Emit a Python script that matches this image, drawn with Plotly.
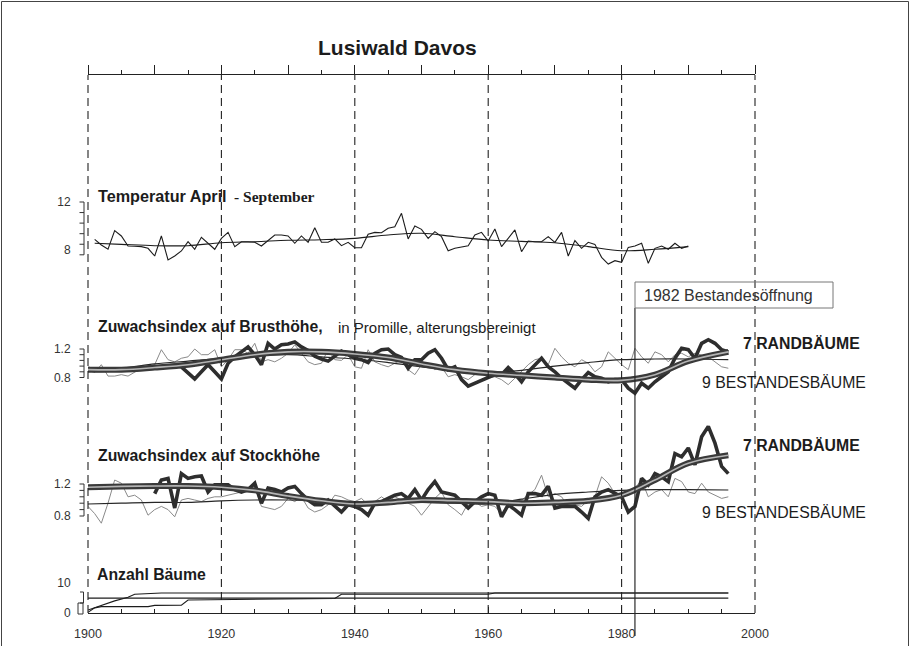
import plotly.graph_objects as go

# ---------------- data ----------------
# Temperatur April - September (°C), annual values and trend
temp_years = list(range(1901, 1991))
temp_values = [8.89, 8.42, 8.06, 9.61, 9.17, 8.33, 8.31, 8.28, 8.14, 7.50,
               9.17, 7.17, 7.50, 7.92, 8.69, 8.06, 9.06, 8.56, 8.06, 8.97,
               9.47, 8.28, 8.69, 8.69, 8.64, 8.33, 8.83, 9.25, 9.25, 9.17,
               8.56, 9.17, 8.64, 9.86, 8.64, 8.64, 8.92, 8.36, 8.64, 8.19,
               8.19, 9.31, 9.47, 9.44, 9.81, 9.94, 11.06, 8.92, 10.00, 9.72,
               8.97, 9.53, 9.11, 7.94, 8.14, 8.28, 8.36, 9.25, 9.47, 8.75,
               9.75, 8.28, 8.97, 9.67, 7.86, 8.75, 8.69, 8.69, 9.11, 8.64,
               9.47, 7.50, 8.78, 8.14, 8.64, 8.47, 7.39, 6.83, 7.11, 6.97,
               8.22, 8.33, 8.56, 6.89, 8.14, 8.33, 8.06, 8.56, 8.14, 8.33]
temp_trend_years = [1901, 1905, 1910, 1915, 1920, 1925, 1930, 1935, 1940, 1945,
                    1950, 1955, 1960, 1965, 1970, 1975, 1980, 1985, 1990]
temp_trend = [8.56, 8.47, 8.36, 8.36, 8.61, 8.69, 8.81, 8.86, 8.97, 9.25,
              9.39, 9.11, 8.83, 8.72, 8.61, 8.28, 7.94, 8.06, 8.28]

# Growth index (per mille, age corrected), annual values 1900-1996
years = list(range(1900, 1997))
brust_rand = [0.93, 0.90, 0.90, 0.90, 0.91, 0.91, 0.91, 0.92, 0.93, 0.94,
              0.94, 0.95, 0.96, 0.97, 0.95, 0.87, 0.78, 0.88, 0.98, 0.88,
              0.78, 1.00, 1.09, 1.16, 1.23, 1.12, 0.98, 1.28, 1.20, 1.26,
              1.27, 1.30, 1.23, 1.18, 1.10, 1.06, 1.03, 1.10, 1.17, 1.12,
              1.07, 1.05, 1.01, 1.14, 1.19, 1.20, 1.12, 1.08, 0.93, 1.05,
              1.05, 1.14, 1.19, 1.07, 0.91, 0.95, 0.77, 0.68, 0.72, 0.77,
              0.81, 0.84, 0.84, 0.94, 0.85, 0.74, 0.88, 0.98, 1.07, 0.95,
              0.88, 0.79, 0.72, 0.65, 0.77, 0.87, 0.81, 0.79, 0.74, 0.77,
              0.77, 0.65, 0.58, 0.72, 0.65, 0.74, 0.81, 0.88, 1.07, 1.21,
              1.19, 1.07, 1.28, 1.33, 1.28, 1.19, 1.16]
brust_bestand = [0.90, 0.87, 0.98, 0.82, 0.82, 0.84, 0.82, 0.88, 0.93, 0.95,
                 0.98, 1.19, 1.05, 1.02, 1.07, 1.09, 1.20, 1.12, 1.12, 1.19,
                 0.95, 1.05, 1.19, 1.19, 1.14, 1.28, 1.02, 1.05, 1.02, 1.07,
                 1.14, 1.26, 1.14, 1.02, 0.98, 1.00, 1.19, 1.05, 1.04, 1.12,
                 0.95, 0.93, 1.19, 1.02, 0.98, 0.95, 1.00, 1.05, 0.91, 0.84,
                 0.98, 1.00, 0.91, 0.95, 0.81, 0.84, 0.81, 0.77, 0.84, 0.88,
                 0.79, 0.81, 0.77, 0.70, 0.79, 0.88, 0.98, 1.05, 1.07, 0.98,
                 1.21, 1.09, 1.00, 0.95, 1.05, 1.00, 0.88, 0.95, 1.16, 1.07,
                 0.98, 0.91, 1.21, 1.09, 1.00, 1.16, 1.12, 1.02, 1.12, 1.14,
                 1.09, 1.14, 1.12, 1.09, 1.02, 0.95, 0.93]

stock_rand_years = list(range(1910, 1997))
stock_rand = [1.08, 1.25, 1.27, 0.90, 1.33, 1.27, 1.29, 1.30, 1.10, 1.19,
              1.19, 1.19, 1.13, 1.10, 1.13, 1.21, 0.96, 1.15, 1.13, 1.10,
              1.15, 1.17, 1.08, 1.00, 0.94, 0.94, 1.00, 0.92, 0.85, 0.94,
              0.92, 0.88, 0.81, 0.96, 0.98, 1.02, 1.06, 1.08, 1.02, 1.13,
              1.00, 1.13, 1.23, 1.10, 1.08, 1.06, 0.98, 0.90, 0.98, 1.04,
              1.08, 1.06, 0.79, 0.94, 0.88, 0.81, 1.08, 1.08, 1.06, 1.17,
              0.90, 0.92, 0.92, 0.92, 0.85, 0.77, 1.04, 1.10, 1.13, 1.08,
              1.04, 0.85, 0.92, 1.27, 1.19, 1.33, 1.29, 1.23, 1.58, 1.54,
              1.65, 1.44, 1.79, 1.92, 1.71, 1.42, 1.33]
stock_bestand = [0.92, 0.83, 0.71, 0.96, 1.25, 1.21, 1.04, 1.06, 1.00, 0.81,
                 0.88, 0.92, 0.88, 0.79, 1.00, 1.02, 1.00, 0.98, 1.02, 1.04,
                 1.04, 1.06, 1.08, 1.10, 1.15, 1.17, 0.92, 0.90, 0.88, 0.92,
                 1.02, 0.98, 1.04, 0.90, 0.85, 0.88, 0.94, 1.06, 1.04, 1.00,
                 0.98, 1.02, 0.94, 0.98, 1.04, 0.98, 1.04, 1.00, 0.96, 0.92,
                 0.81, 0.92, 1.02, 1.10, 0.94, 0.88, 0.81, 0.96, 0.98, 0.92,
                 0.94, 0.92, 0.83, 0.94, 0.98, 1.00, 1.06, 1.13, 1.31, 1.04,
                 1.08, 1.04, 0.92, 0.94, 0.92, 1.00, 1.04, 1.29, 1.21, 1.08,
                 1.04, 1.10, 1.15, 1.25, 1.04, 1.10, 1.13, 1.04, 1.27, 1.23,
                 1.10, 1.08, 1.21, 1.10, 1.06, 1.02, 1.04]

# smoothed curves
trend_years = [1900, 1905, 1910, 1915, 1920, 1925, 1930, 1935, 1940, 1945,
               1950, 1955, 1960, 1965, 1970, 1975, 1980, 1985, 1990, 1996]
brust_rand_trend = [0.91, 0.91, 0.94, 0.98, 1.05, 1.12, 1.16, 1.16, 1.13, 1.08,
                    0.99, 0.91, 0.86, 0.83, 0.80, 0.77, 0.76, 0.84, 1.03, 1.16]
brust_bestand_trend = [0.91, 0.93, 0.99, 1.03, 1.07, 1.10, 1.12, 1.09, 1.06, 1.01,
                       0.95, 0.91, 0.87, 0.90, 0.96, 1.01, 1.05, 1.06, 1.06, 1.05]
stock_rand_trend = [1.16, 1.17, 1.175, 1.175, 1.16, 1.12, 1.05, 0.99, 0.95, 0.97,
                    1.00, 0.99, 0.98, 0.96, 0.97, 0.99, 1.06, 1.25, 1.46, 1.56]
stock_bestand_trend = [0.95, 0.96, 0.97, 0.97, 0.99, 1.00, 1.00, 0.99, 0.98, 0.98,
                       0.97, 0.96, 0.95, 1.01, 1.07, 1.10, 1.12, 1.13, 1.13, 1.125]

# number of trees in the samples
anz_a_years = [1900, 1902, 1904, 1906, 1907, 1911, 1996]
anz_a = [1.0, 2.5, 4.0, 5.2, 6.2, 6.6, 6.6]
anz_b_years = [1900, 1996]
anz_b = [4.9, 4.9]
anz_c_years = [1900, 1901, 1902, 1909, 1910, 1914, 1915, 1925, 1937, 1938, 1960, 1961, 1996]
anz_c = [0.2, 1.7, 2.1, 2.1, 2.5, 2.6, 4.3, 4.5, 4.8, 6.2, 6.2, 6.6, 6.6]

x_ticks = [1900, 1920, 1940, 1960, 1980, 2000]

# ---------------- geometry ----------------
W_FIG, H_FIG = 910, 646
L, T, R, B = 88, 75, 155, 33
PW, PH = W_FIG - L - R, H_FIG - T - B
BOTTOM = T + PH


def px_x(x):
    return (x - L) / PW


def px_y(y):
    return (BOTTOM - y) / PH


def axis_range(v_a, y_a, v_b, y_b):
    # value range of a full-height axis given two value/pixel anchors
    per_px = (v_b - v_a) / (y_a - y_b)
    return [v_a - (BOTTOM - y_a) * per_px, v_a + (y_a - T) * per_px]


rng_temp = axis_range(8, 250, 12, 202)
rng_brust = axis_range(0.8, 377.5, 1.2, 349)
rng_stock = axis_range(0.8, 516, 1.2, 484)
rng_anz = axis_range(0, 613, 10, 582.7)


def v2p(v, rng):
    return (v - rng[0]) / (rng[1] - rng[0])


FONT = "Liberation Sans, Arial, sans-serif"
INK = "#1c1c1c"

fig = go.Figure()

# temperature
fig.add_trace(go.Scatter(x=temp_years, y=temp_values, mode="lines", yaxis="y",
                         line=dict(color=INK, width=1.1)))
fig.add_trace(go.Scatter(x=temp_trend_years, y=temp_trend, mode="lines", yaxis="y",
                         line=dict(color=INK, width=1.1, shape="spline")))


def growth_panel(axis, bestand, bestand_trend, rand_x, rand, rand_trend):
    fig.add_trace(go.Scatter(x=years, y=bestand, mode="lines", yaxis=axis,
                             line=dict(color="#8a8a8a", width=1.0)))
    fig.add_trace(go.Scatter(x=trend_years, y=bestand_trend, mode="lines", yaxis=axis,
                             line=dict(color="#262626", width=1.2, shape="spline")))
    fig.add_trace(go.Scatter(x=rand_x, y=rand, mode="lines", yaxis=axis,
                             line=dict(color="#2e2e2e", width=3.6)))
    fig.add_trace(go.Scatter(x=trend_years, y=rand_trend, mode="lines", yaxis=axis,
                             line=dict(color="#3a3a3a", width=6, shape="spline")))
    fig.add_trace(go.Scatter(x=trend_years, y=rand_trend, mode="lines", yaxis=axis,
                             line=dict(color="#b4b4b4", width=1.6, shape="spline")))


growth_panel("y2", brust_bestand, brust_bestand_trend, years, brust_rand, brust_rand_trend)
growth_panel("y3", stock_bestand, stock_bestand_trend, stock_rand_years, stock_rand,
             stock_rand_trend)

for xs, ys in [(anz_a_years, anz_a), (anz_b_years, anz_b), (anz_c_years, anz_c)]:
    fig.add_trace(go.Scatter(x=xs, y=ys, mode="lines", yaxis="y4",
                             line=dict(color=INK, width=1.1)))

# ---------------- shapes ----------------
shapes = []
for yr in x_ticks:
    shapes.append(dict(type="line", xref="paper", yref="paper",
                       x0=(yr - 1900) / 100, x1=(yr - 1900) / 100, y0=0, y1=1,
                       line=dict(color="#222", width=1.1, dash="8px,5px")))

# 1982 opening of the stand
x82 = (1982 - 1900) / 100
shapes.append(dict(type="line", xref="paper", yref="paper", x0=x82, x1=x82,
                   y0=px_y(636), y1=px_y(308), line=dict(color="#2a2a2a", width=1.2)))
shapes.append(dict(type="rect", xref="paper", yref="paper",
                   x0=px_x(635), x1=px_x(833), y0=px_y(308), y1=px_y(282),
                   line=dict(color="#777", width=1)))


def bracket(rng, top, bottom, n=6):
    xs = px_x(84)
    xl = px_x(79.5)
    y_top, y_bot = v2p(top, rng), v2p(bottom, rng)
    shapes.append(dict(type="line", xref="paper", yref="paper", x0=xs, x1=xs,
                       y0=y_bot, y1=y_top, line=dict(color="#333", width=1)))
    for i in range(n):
        yy = y_top + (y_bot - y_top) * i / (n - 1)
        shapes.append(dict(type="line", xref="paper", yref="paper", x0=xl, x1=xs,
                           y0=yy, y1=yy, line=dict(color="#333", width=1)))


bracket(rng_temp, 12, 7.6)
bracket(rng_brust, 1.2, 0.8)
bracket(rng_stock, 1.2, 0.8)
# small brackets of the tree count axis
shapes.append(dict(type="path", xref="paper", yref="paper",
                   path="M {a},{y1} L {b},{y1} L {b},{y2} L {a},{y2}".format(
                       a=px_x(80), b=px_x(83.5), y1=px_y(592), y2=px_y(603)),
                   line=dict(color="#333", width=1)))
shapes.append(dict(type="rect", xref="paper", yref="paper",
                   x0=px_x(78), x1=px_x(83), y0=px_y(614), y1=px_y(603),
                   line=dict(color="#333", width=1)))

# frame round the page
shapes.append(dict(type="rect", xref="paper", yref="paper",
                   x0=px_x(1.5), x1=px_x(908.5), y0=px_y(650), y1=px_y(1.5),
                   line=dict(color="#444", width=1)))

# ---------------- texts ----------------
ann = []


def text(x, y, s, size=15.8, bold=False, family=FONT, anchor="left", color=INK):
    ann.append(dict(xref="paper", yref="paper", x=px_x(x), y=px_y(y),
                    xanchor=anchor, yanchor="middle", showarrow=False,
                    text="<b>%s</b>" % s if bold else s,
                    font=dict(family=family, size=size, color=color)))


text(397, 47, "Lusiwald Davos", size=21, bold=True, anchor="center")
text(96, 196, "Temperatur April", size=16.2, bold=True)
text(232, 197, "- September", size=15.5, bold=True,
     family="Liberation Serif, Times New Roman, serif")
text(96, 326, "Zuwachsindex auf Brusthöhe,", bold=True)
text(336, 327, "in Promille, alterungsbereinigt", size=15)
text(741, 343, "7 RANDBÄUME", bold=True)
text(700, 382, "9 BESTANDESBÄUME", size=15.8)
text(96, 455, "Zuwachsindex auf Stockhöhe", bold=True)
text(741, 445, "7 RANDBÄUME", bold=True)
text(700, 512, "9 BESTANDESBÄUME", size=15.8)
text(95, 574, "Anzahl Bäume", bold=True)
text(642, 295, "1982 Bestandesöffnung", size=16, color="#333")

yax_common = dict(domain=[0, 1], showgrid=False, zeroline=False, showline=False,
                  ticks="outside", ticklen=14, tickcolor="rgba(0,0,0,0)",
                  tickfont=dict(family=FONT, size=12, color="#333"),
                  automargin=False, fixedrange=True)

fig.update_layout(
    width=W_FIG, height=H_FIG,
    margin=dict(l=L, r=R, t=T, b=B, autoexpand=False),
    paper_bgcolor="white", plot_bgcolor="white",
    showlegend=False,
    font=dict(family=FONT, color=INK),
    xaxis=dict(range=[1900, 2000], domain=[0, 1], showgrid=False, zeroline=False,
               showline=True, linecolor="#222", linewidth=1.2, automargin=False,
               tickvals=x_ticks, ticks="inside", ticklen=6, tickcolor="#222",
               ticklabelstandoff=9,
               minor=dict(dtick=5, tick0=1900, ticks="inside", ticklen=4,
                          tickcolor="#222", showgrid=False),
               tickfont=dict(family=FONT, size=12.5, color="#333")),
    xaxis2=dict(range=[1900, 2000], overlaying="x", side="top", showgrid=False,
                zeroline=False, showline=True, linecolor="#222", linewidth=1.2,
                automargin=False,
                dtick=10, tick0=1900, ticks="outside", ticklen=9, tickcolor="#222",
                minor=dict(dtick=5, ticks="outside", ticklen=4, tickcolor="#222"),
                showticklabels=False),
    yaxis=dict(range=rng_temp, tickvals=[8, 12], ticktext=["8", "12"], **yax_common),
    yaxis2=dict(range=rng_brust, overlaying="y", tickvals=[0.8, 1.2],
                ticktext=["0.8", "1.2"], **yax_common),
    yaxis3=dict(range=rng_stock, overlaying="y", tickvals=[0.8, 1.2],
                ticktext=["0.8", "1.2"], **yax_common),
    yaxis4=dict(range=rng_anz, overlaying="y", tickvals=[0, 10],
                ticktext=["0", "10"], **yax_common),
    shapes=shapes,
    annotations=ann,
)

# empty trace so the top axis is drawn
fig.add_trace(go.Scatter(x=[1900], y=[None], xaxis="x2", mode="lines", hoverinfo="skip"))

fig.write_html("out.html")
